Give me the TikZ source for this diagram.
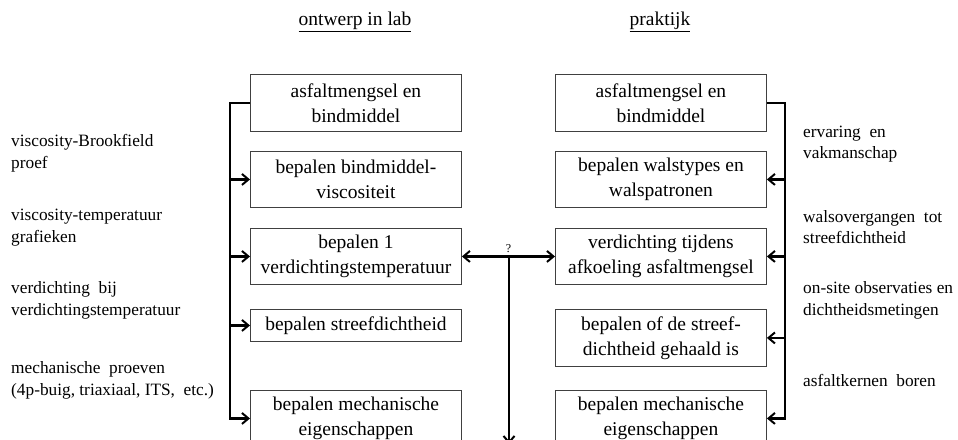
\documentclass[tikz,border=0pt]{standalone}
\usepackage{fontspec}
\setmainfont{Liberation Serif}
\usetikzlibrary{arrows.meta}
\begin{document}
\begin{tikzpicture}[x=1pt,y=-1pt,
  boxnode/.style={draw=black!75,line width=0.9pt,minimum width=211pt,inner sep=0pt,align=center,
    font=\fontsize{19.5}{25}\selectfont,anchor=north west},
  sidetext/.style={anchor=west,align=left,inner sep=0pt,font=\fontsize{17.3}{21.5}\selectfont},
  titletext/.style={inner sep=0pt,font=\fontsize{19.5}{24}\selectfont},
  tip/.tip={Straight Barb[length=6.5pt,width=11pt,line width=2pt]},
  arr/.style={line width=2.2pt,-tip},
  darr/.style={line width=2.2pt,tip-tip}]
\useasboundingbox (0,0) rectangle (958,439);
\clip (0,0) rectangle (958,439);
% titles
\node[titletext] (t1) at (355,22) {\underline{ontwerp in lab}};
\node[titletext] (t2) at (660,22) {\underline{praktijk}};
% lab boxes
\node[boxnode,minimum height=57pt] (lab1) at (250,74) {asfaltmengsel en\\bindmiddel};
\node[boxnode,minimum height=56pt] (lab2) at (250,151) {bepalen bindmiddel-\\viscositeit};
\node[boxnode,minimum height=56pt] (lab3) at (250,228) {bepalen 1\\verdichtingstemperatuur};
\node[boxnode,minimum height=32pt] (lab4) at (250,309) {bepalen streefdichtheid};
\node[boxnode,minimum height=56pt] (lab5) at (250,390) {bepalen mechanische\\eigenschappen};
% praktijk boxes
\node[boxnode,minimum height=57pt] (pr1) at (555,74) {asfaltmengsel en\\bindmiddel};
\node[boxnode,minimum height=56pt] (pr2) at (555,151) {bepalen walstypes en\\walspatronen};
\node[boxnode,minimum height=56pt] (pr3) at (555,228) {verdichting tijdens\\afkoeling asfaltmengsel};
\node[boxnode,minimum height=57pt] (pr4) at (555,309) {bepalen of de streef-\\dichtheid gehaald is};
\node[boxnode,minimum height=56pt] (pr5) at (555,390) {bepalen mechanische\\eigenschappen};
% buses
\coordinate (lbx) at (230,0);
\coordinate (rbx) at (785,0);
\draw[arr] (lab1.west) -- (lab1.west -| lbx) -- (lab5.west -| lbx) -- (lab5.west);
\foreach \n in {lab2,lab3,lab4} \draw[arr] (\n.west -| lbx) -- (\n.west);
\draw[arr] (pr1.east) -- (pr1.east -| rbx) -- (pr5.east -| rbx) -- (pr5.east);
\foreach \n in {pr2,pr3,pr4} \draw[arr] (\n.east -| rbx) -- (\n.east);
% middle
\draw[darr] (lab3.east) -- node[above=3pt,inner sep=0pt,font=\fontsize{12}{14}\selectfont] (q) {?} (pr3.west);
\coordinate (mtop) at (509,256);
\coordinate (mbot) at (509,444);
\draw[arr] (mtop) -- (mbot);
% side texts
\node[sidetext] (s1) at (11,153) {viscosity-Brookfield\\proef};
\node[sidetext] (s2) at (11,227.5) {viscosity-temperatuur\\grafieken};
\node[sidetext] (s3) at (11,300.5) {verdichting\ \ bij\\verdichtingstemperatuur};
\node[sidetext] (s4) at (11,380.5) {mechanische\ \ proeven\\(4p-buig,\ triaxiaal,\ ITS,\ \ etc.)};
\node[sidetext] (r1) at (803,144) {ervaring\ \ en\\vakmanschap};
\node[sidetext] (r2) at (803,227) {walsovergangen\ \ tot\\streefdichtheid};
\node[sidetext] (r3) at (803,300.5) {on-site observaties en\\dichtheidsmetingen};
\node[sidetext] (r4) at (803,380) {asfaltkernen\ \ boren};
\end{tikzpicture}
\end{document}
